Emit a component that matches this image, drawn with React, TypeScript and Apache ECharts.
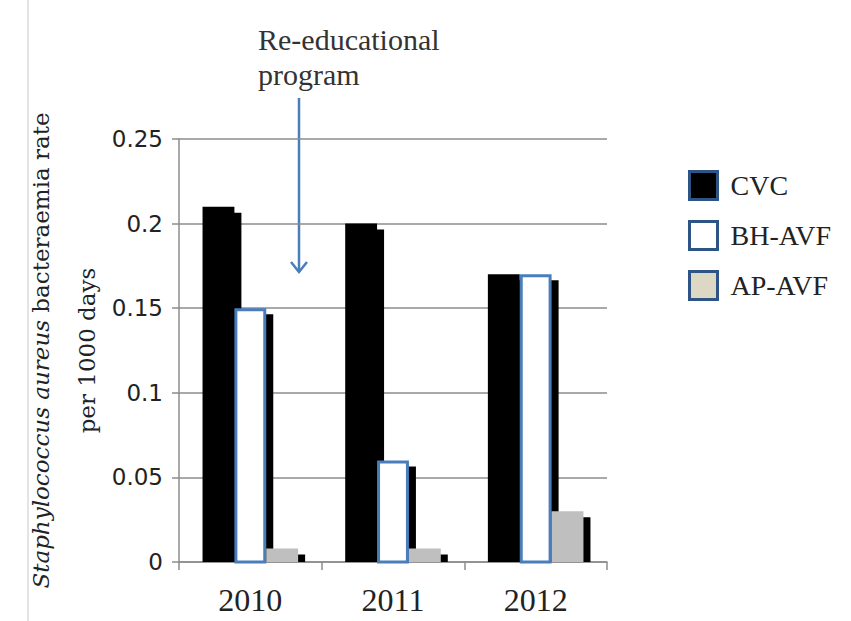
import React, { useEffect, useRef } from "react";
import * as echarts from "echarts";

const categories = ["2010", "2011", "2012"];
const cvc = [0.21, 0.2, 0.17];
const bhAvf = [0.15, 0.06, 0.17];
const apAvf = [0.008, 0.008, 0.03];
const seriesNames = ["CVC", "BH-AVF", "AP-AVF"];
const yMin = 0;
const yMax = 0.25;
const yStep = 0.05;
const annotationLines = ["Re-educational", "program"];

const GRAY_AXIS = "#8c8c8c";
const BLUE = "#4a7ebb";
const SERIF = "'Liberation Serif', 'Times New Roman', serif";

export default function App() {
  const ref = useRef<HTMLDivElement>(null);

  useEffect(() => {
    if (!ref.current) return;
    const chart = echarts.init(ref.current, null, { renderer: "svg" });

    const styles = [
      { fill: "#000000", stroke: null as string | null },
      { fill: "#ffffff", stroke: BLUE },
      { fill: "#bfbfbf", stroke: null as string | null },
    ];
    const legendFills = ["#000000", "#ffffff", "#ddd8c4"];
    const values = [cvc, bhAvf, apAvf];

    const makeSeries = (k: number) => ({
      name: seriesNames[k],
      type: "custom",
      z: 2 + k,
      itemStyle: { color: legendFills[k] },
      data: values[k].map((v, i) => [i, v]),
      renderItem: (params: any, api: any) => {
        const idx = api.value(0);
        const val = api.value(1);
        const pt = api.coord([idx, val]);
        const base = api.coord([idx, 0])[1];
        const band = api.size([1, 0])[0];
        const groupW = band * 0.67;
        const bw = groupW / 3;
        const x = pt[0] - groupW / 2 + k * bw;
        const top = pt[1];
        const sx = 7;
        const sy = 6;
        const st = styles[k];
        const main = st.stroke
          ? {
              type: "rect",
              shape: { x: x + 1.5, y: top + 1.5, width: bw - 3, height: base - top - 1.5 },
              style: { fill: st.fill, stroke: st.stroke, lineWidth: 3 },
            }
          : {
              type: "rect",
              shape: { x, y: top, width: bw, height: base - top },
              style: { fill: st.fill },
            };
        return {
          type: "group",
          children: [
            {
              type: "rect",
              shape: { x: x + sx, y: top + sy, width: bw, height: Math.max(0, base - top - sy) },
              style: { fill: "#000000" },
            },
            main,
          ],
        };
      },
    });

    chart.setOption({
      animation: false,
      backgroundColor: "#ffffff",
      grid: { left: 179, right: 244, top: 139, bottom: 59, containLabel: false },
      legend: {
        orient: "vertical",
        left: 683,
        top: 165,
        icon: "rect",
        itemWidth: 28,
        itemHeight: 28,
        itemGap: 19,
        textStyle: { fontFamily: SERIF, fontSize: 28, color: "#222222", padding: [0, 0, 0, 8] },
        data: seriesNames.map((n, k) => ({
          name: n,
          itemStyle: { color: legendFills[k], borderColor: "#2e5486", borderWidth: 3 },
        })),
      },
      xAxis: {
        type: "category",
        data: categories,
        axisLine: { show: true, lineStyle: { color: GRAY_AXIS, width: 1.5 } },
        axisTick: { show: true, length: 8, lineStyle: { color: GRAY_AXIS, width: 1.5 } },
        axisLabel: { fontFamily: SERIF, fontSize: 32, color: "#222222", margin: 22 },
      },
      yAxis: {
        type: "value",
        min: yMin,
        max: yMax,
        interval: yStep,
        axisLine: { show: true, lineStyle: { color: GRAY_AXIS, width: 1.5 } },
        axisTick: { show: true, length: 7, lineStyle: { color: GRAY_AXIS, width: 1.5 } },
        splitLine: { show: true, lineStyle: { color: GRAY_AXIS, width: 1.5 } },
        axisLabel: { fontFamily: "'DejaVu Sans', sans-serif", fontSize: 23, color: "#222222", margin: 16 },
        name: "{i|Staphylococcus aureus} {n|bacteraemia rate}\n{n|per 1000 days}",
        nameLocation: "middle",
        nameGap: 69,
        nameMoveOverlap: false,
        nameRotate: 90,
        nameTextStyle: {
          fontFamily: "'DejaVu Serif', serif",
          fontSize: 23,
          lineHeight: 46,
          color: "#222222",
          rich: {
            i: { fontFamily: "'DejaVu Serif', serif", fontSize: 23, fontStyle: "italic", lineHeight: 46, color: "#222222" },
            n: { fontFamily: "'DejaVu Serif', serif", fontSize: 23, lineHeight: 46, color: "#222222" },
          },
        },
      },
      series: [makeSeries(0), makeSeries(1), makeSeries(2)],
      graphic: [
        {
          type: "line",
          shape: { x1: 28, y1: 0, x2: 28, y2: 621 },
          style: { stroke: "#e4e4e4", lineWidth: 2 },
          silent: true,
        },
        {
          type: "text",
          left: 258,
          top: 24,
          style: { text: annotationLines[0], fontFamily: SERIF, fontSize: 30, fill: "#333333" },
        },
        {
          type: "text",
          left: 258,
          top: 59,
          style: { text: annotationLines[1], fontFamily: SERIF, fontSize: 30, fill: "#333333" },
        },
        {
          type: "line",
          shape: { x1: 299, y1: 98, x2: 299, y2: 272 },
          style: { stroke: BLUE, lineWidth: 2.5 },
        },
        {
          type: "polyline",
          shape: { points: [[291, 262], [299, 272], [307, 262]] },
          style: { stroke: BLUE, lineWidth: 2.5, fill: null },
        },
      ],
    });

    return () => chart.dispose();
  }, []);

  return <div ref={ref} style={{ width: 851, height: 621, position: "absolute", left: 0, top: 0 }} />;
}
